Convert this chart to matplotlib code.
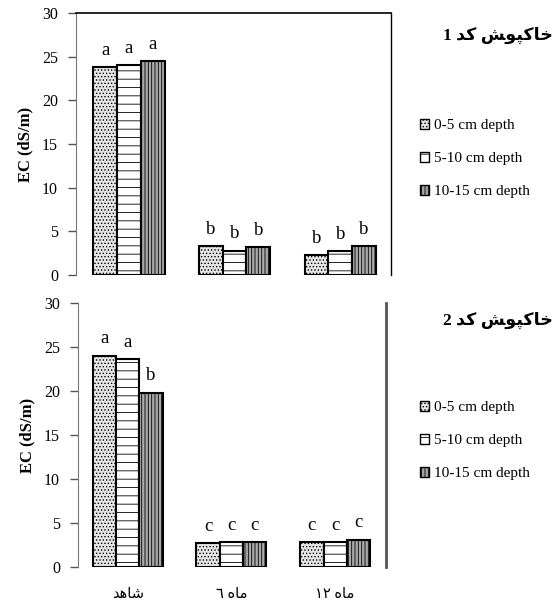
import matplotlib
matplotlib.use('Agg')
import numpy as np
from matplotlib import pyplot as plt
from matplotlib.patches import Patch

plt.rcParams['font.family'] = ['Liberation Serif', 'DejaVu Sans']
plt.rcParams['hatch.linewidth'] = 0.6

# categories (Persian labels written in visual order with presentation forms)
categories = ['\uFEAA\uFEEB\uFE8E\uFEB7',              # shahed
              '\u0666 \uFEE9\uFE8E\uFEE3',             # 6 mah
              '\u0661\u0662 \uFEE9\uFE8E\uFEE3']       # 12 mah
series_names = ['0-5 cm depth', '5-10 cm depth', '10-15 cm depth']

# panel 1 (code 1)
p1_0_5 = [23.8, 3.3, 2.3]
p1_5_10 = [24.0, 2.8, 2.7]
p1_10_15 = [24.5, 3.2, 3.3]
p1_letters = [['a', 'b', 'b'], ['a', 'b', 'b'], ['a', 'b', 'b']]

# panel 2 (code 2)
p2_0_5 = [24.0, 2.7, 2.8]
p2_5_10 = [23.6, 2.8, 2.8]
p2_10_15 = [19.8, 2.85, 3.1]
p2_letters = [['a', 'c', 'c'], ['a', 'c', 'c'], ['b', 'c', 'c']]

word_code = '\uFEAA\uFB90'                                   # kod
word_mulch = '\uFEB6\uFEEE\uFB59\uFB90\uFE8E\uFEA7'          # khakpush
titles = ['1 ' + word_code + ' ' + word_mulch, '2 ' + word_code + ' ' + word_mulch]

styles = [dict(facecolor='#e6e6e6', hatch='.....'),
          dict(facecolor='white', hatch='--'),
          dict(facecolor='#a8a8a8', hatch='|||||')]

fig = plt.figure(figsize=(5.54, 6.06), dpi=100)
ax1 = fig.add_axes([76/554, 1-275/606, 315/554, 262/606])
ax2 = fig.add_axes([78/554, 1-567/606, 308/554, 264/606])

x = np.arange(len(categories))
w = 0.225


def draw(ax, data, letters, xlim, show_x):
    for i, vals in enumerate(data):
        ax.bar(x + (i - 1) * w, vals, w, edgecolor='black', linewidth=1.5, **styles[i])
        for j, v in enumerate(vals):
            ax.text(x[j] + (i - 1) * w, v + 1.4, letters[i][j], ha='center', va='baseline', fontsize=13.5)
    ax.set_ylim(0, 30)
    ax.set_yticks(range(0, 31, 5))
    ax.set_xlim(*xlim)
    ax.tick_params(axis='y', direction='out', length=6, width=1, labelsize=11.5, pad=7, color='#555555')
    ax.spines['bottom'].set_visible(False)
    ax.spines['left'].set_color('#777777')
    ax.set_ylabel('EC (dS/m)', fontsize=12, fontweight='bold', labelpad=6)
    if show_x:
        ax.set_xticks(x)
        ax.set_xticklabels(categories, fontsize=10.5)
        ax.tick_params(axis='x', length=0, pad=15)
    else:
        ax.set_xticks([])


draw(ax1, [p1_0_5, p1_5_10, p1_10_15], p1_letters, (-0.5, 2.48), False)
ax1.spines['top'].set_linewidth(1.2)
ax1.spines['right'].set_linewidth(1.0)

draw(ax2, [p2_0_5, p2_5_10, p2_10_15], p2_letters, (-0.48, 2.49), True)
ax2.spines['top'].set_visible(False)
ax2.spines['right'].set_color('#555555')
ax2.spines['right'].set_linewidth(2)

handles = [Patch(edgecolor='black', linewidth=1, **styles[i]) for i in range(3)]
for top, ttl_y, ttl in [(119, 35, titles[0]), (401, 320, titles[1])]:
    fig.legend(handles, series_names, loc='upper left', bbox_to_anchor=(420/554, 1-top/606),
               frameon=False, fontsize=11, handlelength=0.6, handleheight=0.6,
               handletextpad=0.3, labelspacing=1.3, borderpad=0, borderaxespad=0)
    fig.text(553/554, 1-ttl_y/606, ttl, ha='right', va='center', fontsize=12.5, fontweight='bold')

plt.savefig('out.png', dpi=100)
